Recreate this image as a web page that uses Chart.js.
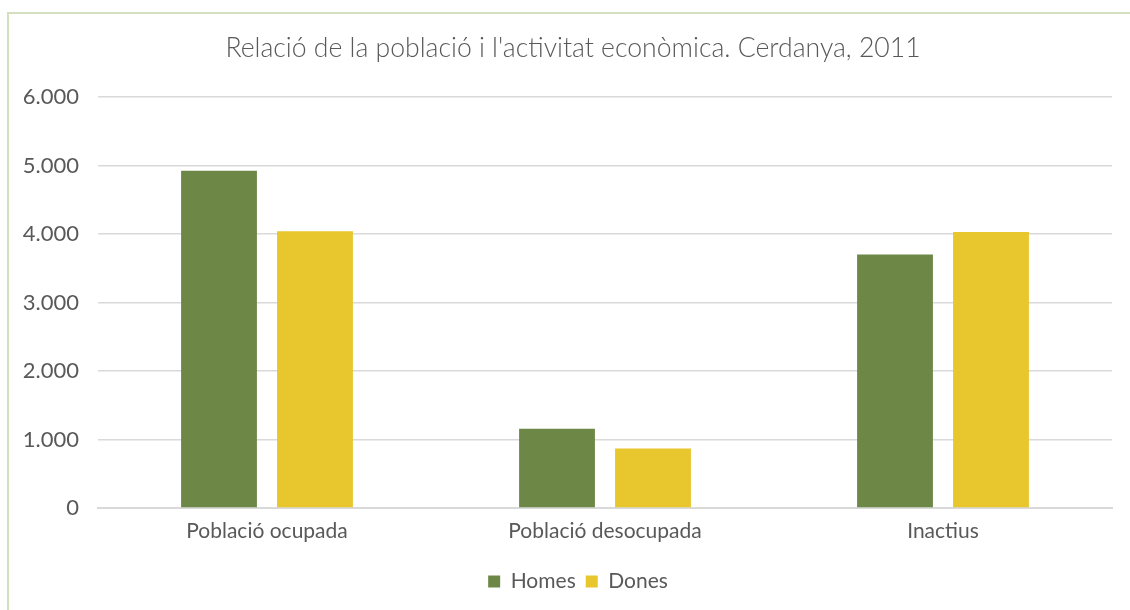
<!DOCTYPE html>
<html>
<head>
<meta charset="utf-8">
<script src="https://cdn.jsdelivr.net/npm/chart.js@4.4.0/dist/chart.umd.min.js"></script>
<style>
html,body{margin:0;padding:0;background:#fff;}
#wrap{position:relative;width:1130px;height:610px;overflow:hidden;}
#frame{position:absolute;left:7px;top:12px;width:1140px;height:620px;border:2px solid #d3dfbd;box-sizing:border-box;}
canvas{position:absolute;left:0;top:0;}
</style>
</head>
<body>
<div id="wrap">
<div id="frame"></div>
<canvas id="c" width="1130" height="610"></canvas>
</div>
<script>
const categories = ['Població ocupada', 'Població desocupada', 'Inactius'];
const homes = [4922, 1157, 3701];
const dones = [4040, 868, 4029];
const seriesNames = ['Homes', 'Dones'];
const titleText = "Relació de la població i l'activitat econòmica. Cerdanya, 2011";

const FONT = 'Lato, "Open Sans", sans-serif';
const TXT = '#595959';

const shiftBlocks = {
  id: 'shiftBlocks',
  afterLayout(chart) {
    if (chart.titleBlock) { chart.titleBlock.left += 34; }
    if (chart.legend) { chart.legend.left += 44; }
  }
};

new Chart(document.getElementById('c'), {
  type: 'bar',
  data: {
    labels: categories,
    datasets: [
      {label: seriesNames[0], data: homes, backgroundColor: '#6d8846', categoryPercentage: 0.568, barPercentage: 0.79},
      {label: seriesNames[1], data: dones, backgroundColor: '#e8c62d', categoryPercentage: 0.568, barPercentage: 0.79}
    ]
  },
  plugins: [shiftBlocks],
  options: {
    responsive: false,
    animation: false,
    devicePixelRatio: 1,
    layout: {padding: {left: 0, right: 18, top: 0, bottom: 8}},
    plugins: {
      title: {
        display: true, text: titleText, color: TXT,
        font: {family: FONT, size: 26.6, weight: '300'},
        padding: {top: 32, bottom: 33}
      },
      legend: {
        position: 'bottom',
        labels: {color: TXT, font: {family: FONT, size: 21}, boxWidth: 12, boxHeight: 12, padding: 10}
      },
      tooltip: {enabled: false}
    },
    scales: {
      x: {
        grid: {display: false},
        border: {color: '#d9d9d9', width: 2},
        afterFit: (s) => { s.height = 53; },
        ticks: {color: TXT, font: {family: FONT, size: 21}, padding: 3}
      },
      y: {
        min: 0, max: 6000,
        afterFit: (s) => { s.width = 98; },
        grid: {color: '#d9d9d9', lineWidth: 1.5, drawTicks: false},
        border: {display: false},
        ticks: {
          stepSize: 1000, color: TXT, font: {family: FONT, size: 22}, padding: 19,
          callback: (v) => String(v).replace(/\B(?=(\d{3})+(?!\d))/g, '.')
        }
      }
    }
  }
});
</script>
</body>
</html>
